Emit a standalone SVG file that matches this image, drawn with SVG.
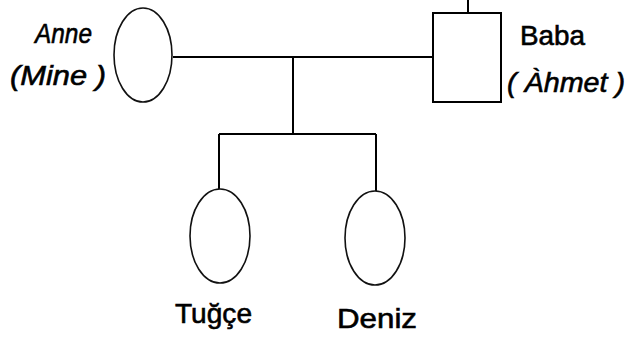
<svg xmlns="http://www.w3.org/2000/svg" width="627" height="338" viewBox="0 0 627 338">
<style>
.s{fill:none;stroke:#000;stroke-width:2}
.n{fill:none;stroke:#111;stroke-width:1.6}
text{font-family:"Liberation Sans","DejaVu Sans",sans-serif;font-size:28px;fill:#000;stroke:#000;stroke-width:0.6}
.i{font-style:italic}
</style>
<rect width="627" height="338" fill="#fff"/>
<g id="connectors">
<path class="s" d="M173 57H433"/>
<path class="s" d="M468 0V13"/>
<path class="s" d="M293 57V134"/>
<path class="s" d="M219 134H376"/>
<path class="s" d="M219 134V189"/>
<path class="s" d="M376 134V191"/>
</g>
<g id="anne">
<ellipse class="n" cx="143" cy="55" rx="29" ry="47"/>
<text class="i" x="35" y="43" textLength="57" lengthAdjust="spacingAndGlyphs">Anne</text>
<text class="i" x="10" y="85" textLength="96" lengthAdjust="spacingAndGlyphs">(Mine )</text>
</g>
<g id="baba">
<rect class="s" x="433" y="13" width="68" height="89"/>
<text x="520" y="45" textLength="65" lengthAdjust="spacingAndGlyphs">Baba</text>
<text class="i" x="507" y="92" textLength="118" lengthAdjust="spacingAndGlyphs">( Àhmet )</text>
</g>
<g id="tugce">
<ellipse class="n" cx="220" cy="236" rx="30" ry="47"/>
<text x="175" y="323" textLength="77" lengthAdjust="spacingAndGlyphs">Tuğçe</text>
</g>
<g id="deniz">
<ellipse class="n" cx="375" cy="238" rx="30" ry="47"/>
<text x="337" y="328" textLength="80" lengthAdjust="spacingAndGlyphs">Deniz</text>
</g>
</svg>
